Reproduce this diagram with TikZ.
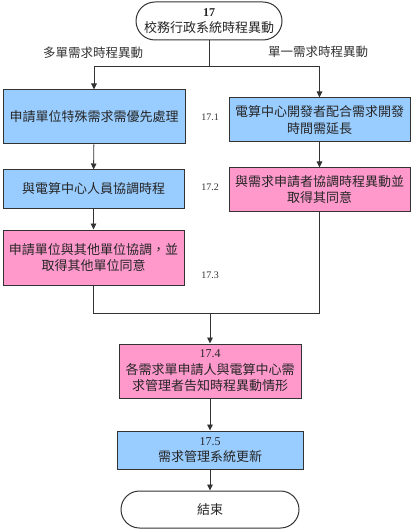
\documentclass[tikz,border=0pt]{standalone}
\usepackage{fontspec}
\setmainfont{Liberation Serif}
\newfontfamily\cjk{Noto Sans CJK TC}
\usetikzlibrary{arrows.meta}
\definecolor{boxblue}{HTML}{99CCFF}
\definecolor{boxpink}{HTML}{FF99CC}
\definecolor{linegray}{HTML}{333333}
\begin{document}
\begin{tikzpicture}[x=1pt,y=-1pt,
  box/.style={draw=linegray,line width=1pt,align=center,inner sep=1pt,
    font=\cjk\fontsize{13}{16.5}\selectfont,text=black!85},
  bluebox/.style={box,fill=boxblue},
  pinkbox/.style={box,fill=boxpink},
  term/.style={box,fill=white},
  arr/.style={draw=linegray,line width=0.9pt,-{Triangle[length=6pt,width=5.5pt]}},
  ln/.style={draw=linegray,line width=0.9pt},
  num/.style={font=\fontsize{10}{12}\selectfont,text=black!80},
  branch/.style={font=\cjk\fontsize{12.5}{15}\selectfont,text=black!80}]
\useasboundingbox (0,0) rectangle (411,529);
% terminators
\node[term,minimum width=146pt,minimum height=38pt,rounded corners=19pt] (start) at (209,21)
  {{\rmfamily\bfseries\fontsize{12}{14}\selectfont 17}\\校務行政系統時程異動};
\node[term,minimum width=178pt,minimum height=37pt,rounded corners=18.5pt] (end) at (210,509.5) {結束};
% left column
\node[bluebox,minimum width=182pt,minimum height=54pt] (l1) at (94,117) {申請單位特殊需求需優先處理};
\node[bluebox,minimum width=181pt,minimum height=38pt] (l2) at (93.5,189) {與電算中心人員協調時程};
\node[pinkbox,minimum width=181pt,minimum height=55pt] (l3) at (93.5,257.5) {申請單位與其他單位協調，並\\取得其他單位同意};
% right column
\node[bluebox,minimum width=181pt,minimum height=44pt] (r1) at (319.5,120) {電算中心開發者配合需求開發\\時間需延長};
\node[pinkbox,minimum width=181pt,minimum height=43pt] (r2) at (319.5,189.5) {與需求申請者協調時程異動並\\取得其同意};
% merged
\node[pinkbox,minimum width=182pt,minimum height=54pt] (b4) at (210,371)
  {{\rmfamily\fontsize{12}{14}\selectfont 17.4}\\各需求單申請人與電算中心需\\求管理者告知時程異動情形};
\node[bluebox,minimum width=186pt,minimum height=38pt] (b5) at (210,450)
  {{\rmfamily\fontsize{12}{14}\selectfont 17.5}\\需求管理系統更新};
% labels
\node[num] (n1) at (210,117) {17.1};
\node[num] (n2) at (210,187) {17.2};
\node[num] (n3) at (210,275) {17.3};
\node[branch] (bl) at (93,53) {多單需求時程異動};
\node[branch] (br) at (318,52) {單一需求時程異動};
% connectors
\coordinate (jt) at (209,66);
\coordinate (jb) at (210,313);
\draw[ln] (start.south) -- (jt);
\draw[arr] (jt) -| (l1.north);
\draw[arr] (jt) -| (r1.north);
\draw[arr] (l1) -- (l2);
\draw[arr] (l2) -- (l3);
\draw[arr] (r1) -- (r2);
\draw[ln] (l3.south) |- (jb);
\draw[ln] (r2.south) |- (jb);
\draw[arr] (jb) -- (b4.north);
\draw[arr] (b4) -- (b5);
\draw[arr] (b5) -- (end);
\end{tikzpicture}
\end{document}
